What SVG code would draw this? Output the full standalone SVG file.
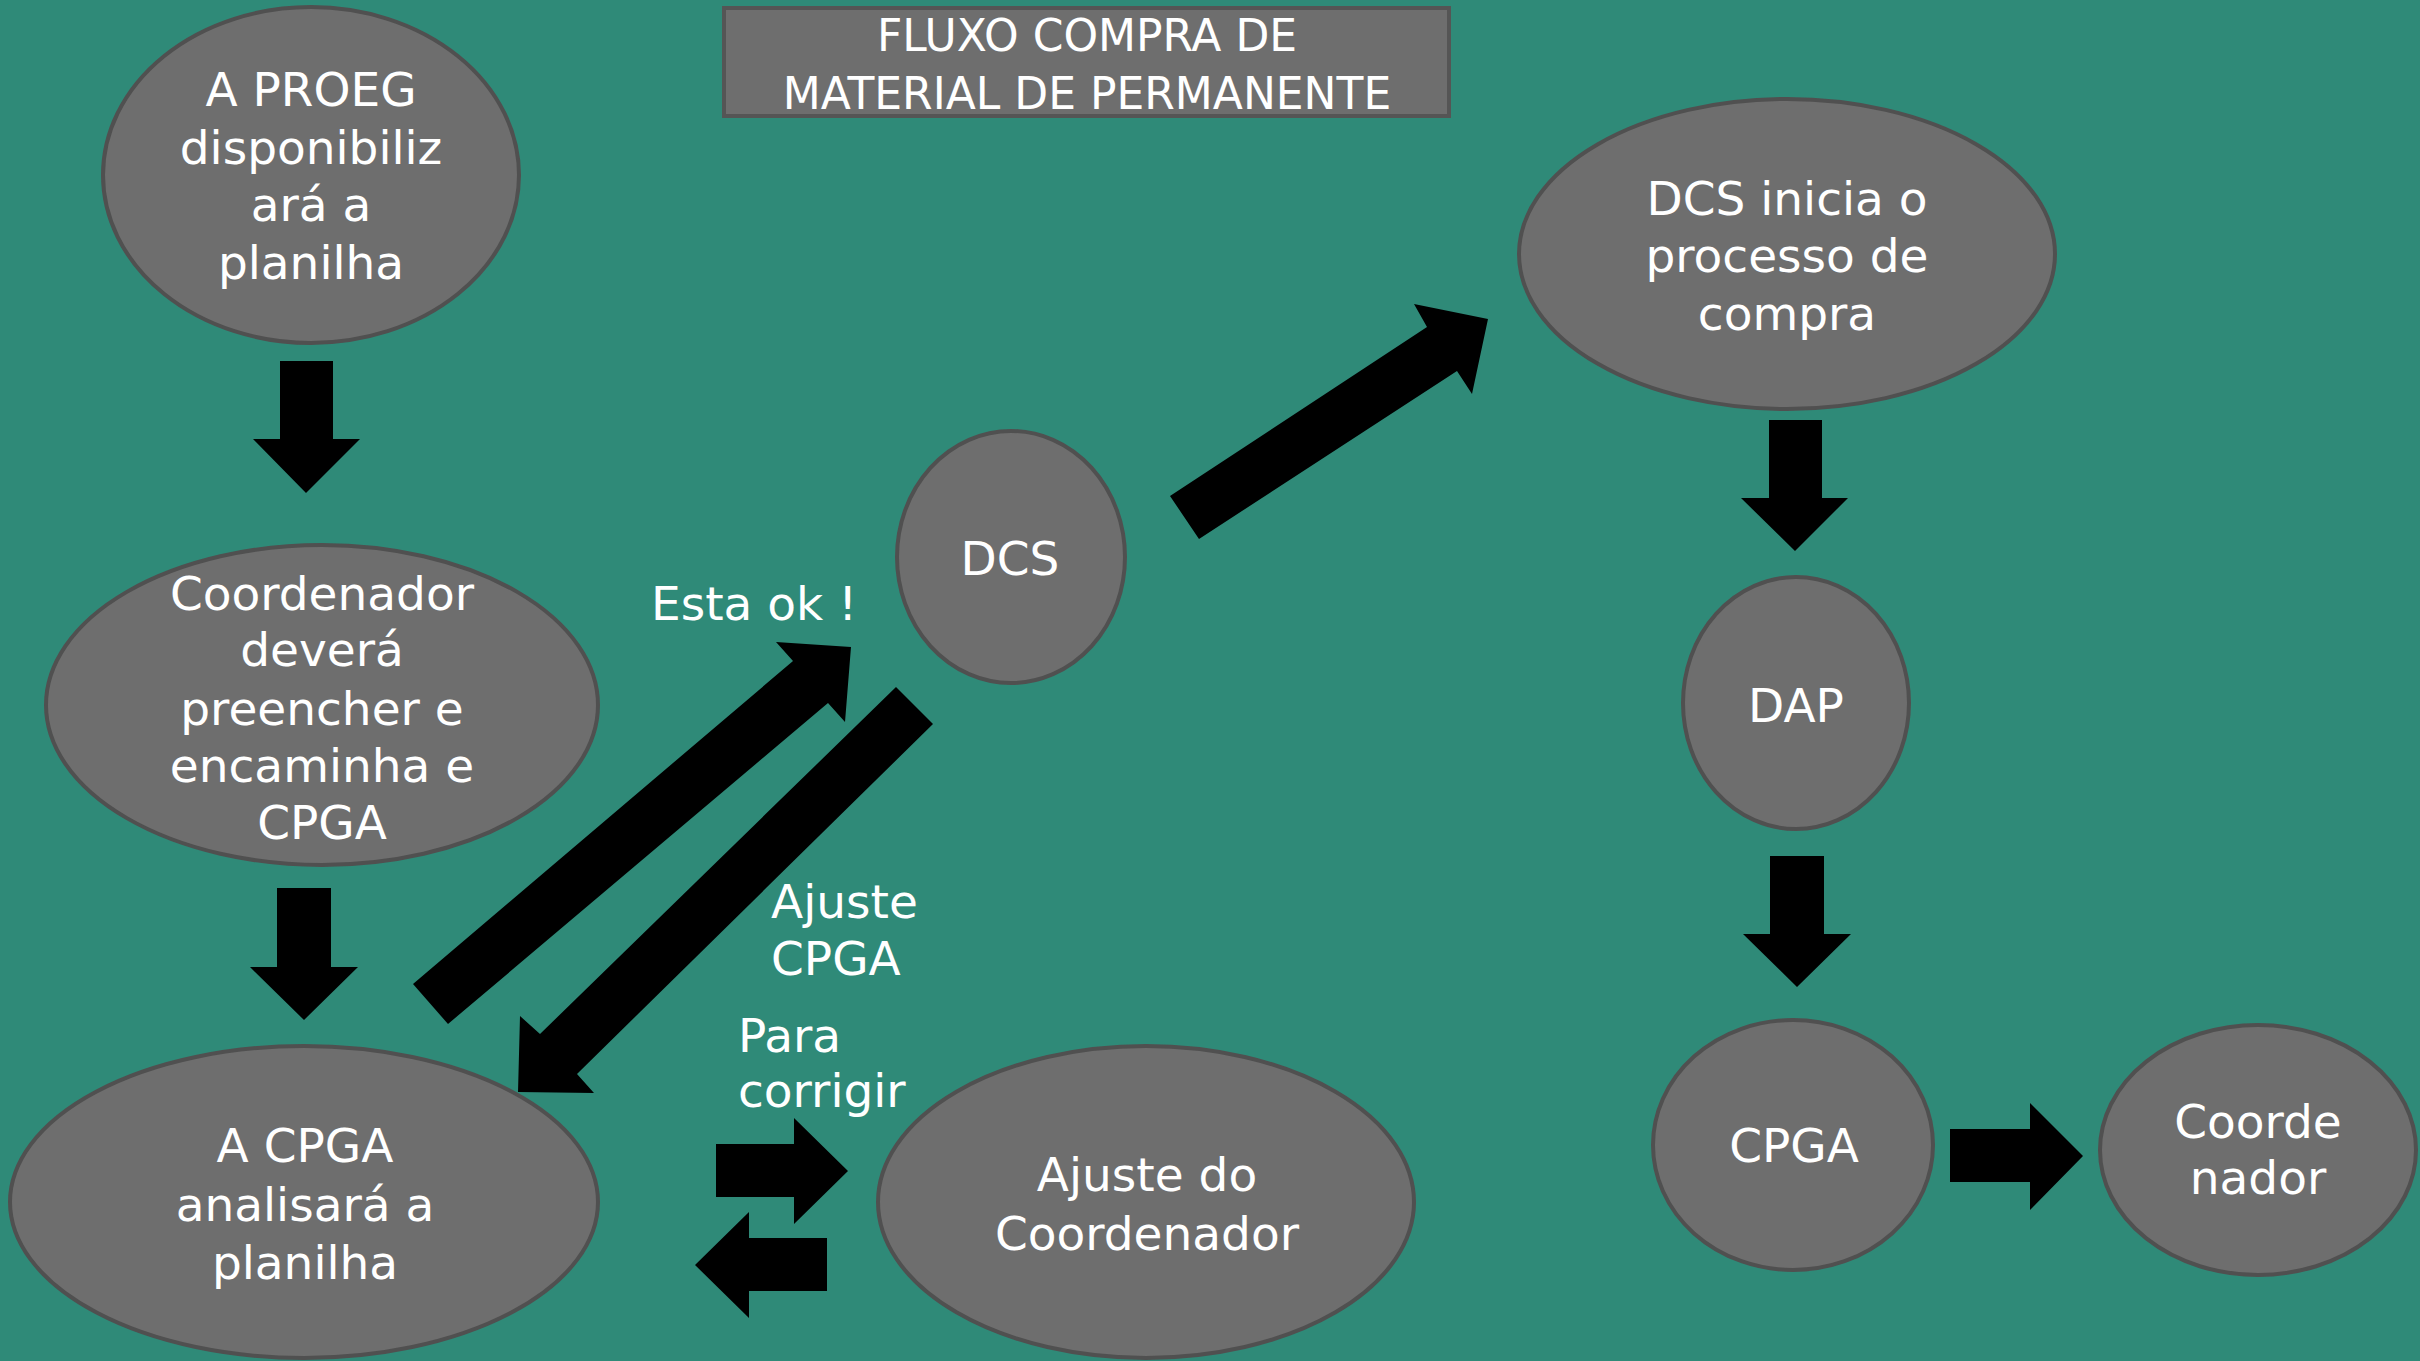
<svg xmlns="http://www.w3.org/2000/svg" width="2420" height="1361" viewBox="0 0 2420 1361">
<style>
.node{fill:#6e6e6e;stroke:#505050;stroke-width:4}
.t{font-family:"DejaVu Sans",sans-serif;font-size:47px;fill:#ffffff;text-anchor:middle}
.lbl{font-family:"DejaVu Sans",sans-serif;font-size:47px;fill:#ffffff}
.arr{fill:#000000}
</style>
<rect width="2420" height="1361" fill="#2f8a78"/>
<g id="title">
<rect x="724" y="8" width="725" height="108" fill="#6e6e6e" stroke="#555555" stroke-width="4"/>
<text class="t" font-size="44" x="1087" y="51" style="font-size:44px">FLUXO COMPRA DE</text>
<text class="t" x="1087" y="109" style="font-size:44px">MATERIAL DE PERMANENTE</text>
</g>
<g id="n-proeg">
<ellipse class="node" cx="311" cy="175" rx="208" ry="168"/>
<text class="t" x="311" y="106">A PROEG</text>
<text class="t" x="311" y="164">disponibiliz</text>
<text class="t" x="311" y="221">ará a</text>
<text class="t" x="311" y="279">planilha</text>
</g>
<g id="n-coord">
<ellipse class="node" cx="322" cy="705" rx="276" ry="160"/>
<text class="t" x="322" y="610">Coordenador</text>
<text class="t" x="322" y="666">deverá</text>
<text class="t" x="322" y="725">preencher e</text>
<text class="t" x="322" y="782">encaminha e</text>
<text class="t" x="322" y="839">CPGA</text>
</g>
<g id="n-cpga-analisa">
<ellipse class="node" cx="304" cy="1202" rx="294" ry="156"/>
<text class="t" x="305" y="1162">A CPGA</text>
<text class="t" x="305" y="1221">analisará a</text>
<text class="t" x="305" y="1279">planilha</text>
</g>
<g id="n-dcs">
<ellipse class="node" cx="1011" cy="557" rx="114" ry="126"/>
<text class="t" x="1010" y="575">DCS</text>
</g>
<g id="n-ajuste-coord">
<ellipse class="node" cx="1146" cy="1202" rx="268" ry="156"/>
<text class="t" x="1147" y="1191">Ajuste do</text>
<text class="t" x="1147" y="1250">Coordenador</text>
</g>
<g id="n-dcs-inicia">
<ellipse class="node" cx="1787" cy="254" rx="268" ry="155"/>
<text class="t" x="1787" y="215">DCS inicia o</text>
<text class="t" x="1787" y="272">processo de</text>
<text class="t" x="1787" y="330">compra</text>
</g>
<g id="n-dap">
<ellipse class="node" cx="1796" cy="703" rx="113" ry="126"/>
<text class="t" x="1796" y="722">DAP</text>
</g>
<g id="n-cpga">
<ellipse class="node" cx="1793" cy="1145" rx="140" ry="125"/>
<text class="t" x="1794" y="1162">CPGA</text>
</g>
<g id="n-coordenador">
<ellipse class="node" cx="2258" cy="1150" rx="158" ry="125"/>
<text class="t" x="2258" y="1138">Coorde</text>
<text class="t" x="2258" y="1194">nador</text>
</g>
<g id="connectors">
<polygon class="arr" points="280,361 333,361 333,439 360,439 306,493 253,439 280,439"/>
<polygon class="arr" points="277,888 331,888 331,967 358,967 304,1020 250,967 277,967"/>
<polygon class="arr" points="413,984 793,661 776,642 851,647 845,722 828,703 448,1024"/>
<polygon class="arr" points="896,687 933,724 577,1074 594,1093 518,1092 520,1016 540,1034"/>
<polygon class="arr" points="716,1144 794,1144 794,1118 848,1171 794,1224 794,1197 716,1197"/>
<polygon class="arr" points="827,1238 749,1238 749,1212 695,1265 749,1318 749,1291 827,1291"/>
<polygon class="arr" points="1170,496 1427,327 1414,304 1488,319 1472,394 1457,371 1199,539"/>
<polygon class="arr" points="1769,420 1822,420 1822,498 1848,498 1795,551 1741,498 1769,498"/>
<polygon class="arr" points="1770,856 1824,856 1824,934 1851,934 1797,987 1743,934 1770,934"/>
<polygon class="arr" points="1950,1129 2030,1129 2030,1103 2083,1156 2030,1210 2030,1182 1950,1182"/>
<text class="lbl" x="651" y="620">Esta ok !</text>
<text class="lbl" x="771" y="918">Ajuste</text>
<text class="lbl" x="771" y="975">CPGA</text>
<text class="lbl" x="738" y="1052">Para</text>
<text class="lbl" x="738" y="1107">corrigir</text>
</g>
</svg>
